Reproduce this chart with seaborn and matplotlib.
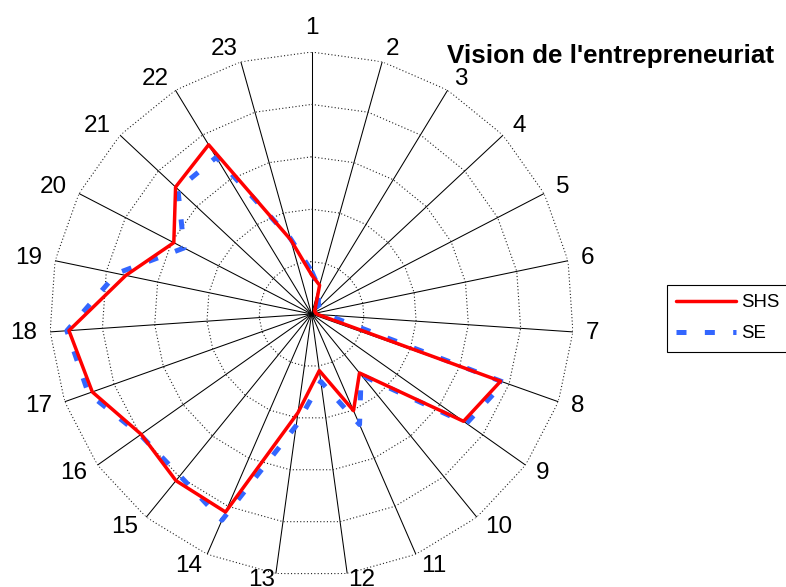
import numpy as np
import pandas as pd
import matplotlib
matplotlib.use("Agg")
import matplotlib.pyplot as plt
import seaborn as sns

# ---- data ----
spoke_labels = [str(i) for i in range(1, 24)]
shs_values = [0.75, 0.57, 0.14, 0.08, 0.08, 0.08, 0.12, 3.83, 3.55, 1.45, 2.01, 1.09,
              1.90, 4.12, 4.10, 3.98, 4.44, 4.64, 3.62, 2.96, 3.55, 3.78, 1.47]
se_values = [0.82, 0.52, 0.25, 0.20, 0.20, 0.22, 0.30, 3.90, 3.62, 1.50, 2.30, 1.30,
             2.15, 4.29, 3.98, 4.00, 4.52, 4.68, 3.80, 2.74, 3.49, 3.50, 1.50]
ring_levels = [1, 2, 3, 4, 5]
series_names = ["SHS", "SE"]
title_text = "Vision de l'entrepreneuriat"

sns.set_style("white")
plt.rcParams['font.family'] = ['Liberation Sans', 'DejaVu Sans']
plt.rcParams['text.color'] = 'black'
plt.rcParams['axes.labelcolor'] = 'black'

n = len(spoke_labels)
theta = np.arange(n) * 2 * np.pi / n
theta_c = np.append(theta, theta[0])

fig = plt.figure(figsize=(7.86, 5.87), dpi=100)
ax = fig.add_axes([0.063, 0.0187, 0.6667, 0.8927], projection='polar')
ax.set_theta_zero_location('N')
ax.set_theta_direction(-1)
rmax = ring_levels[-1]
ax.set_ylim(0, rmax)
ax.grid(False)
ax.spines['polar'].set_visible(False)
ax.set_xticks([])
ax.set_yticks([])

# spokes
for t in theta:
    ax.plot([t, t], [0, rmax], color='black', lw=0.75, zorder=1)
# polygon rings
for lv in ring_levels:
    ax.plot(theta_c, [lv] * (n + 1), color='#222222', lw=0.8,
            linestyle=(0, (1, 2)), zorder=1)

# data lines
df_shs = pd.DataFrame({'theta': theta_c, 'r': shs_values + shs_values[:1]})
df_se = pd.DataFrame({'theta': theta_c, 'r': se_values + se_values[:1]})
sns.lineplot(data=df_se, x='theta', y='r', ax=ax, sort=False, estimator=None,
             color='#3366ff', lw=3.6, linestyle=(0, (2.0, 3.67)),
             solid_capstyle='butt', dash_capstyle='butt', label=series_names[1], zorder=3)
sns.lineplot(data=df_shs, x='theta', y='r', ax=ax, sort=False, estimator=None,
             color='#ff0000', lw=2.5, label=series_names[0], zorder=4)
ax.set_xlabel('')
ax.set_ylabel('')
ax.set_xticks([])
ax.set_yticks([])
ax.set_ylim(0, rmax)

# spoke labels
for t, lab in zip(theta, spoke_labels):
    s, c = np.sin(t), np.cos(t)
    ha = 'left' if s > 0.05 else ('right' if s < -0.05 else 'center')
    va = 'bottom' if c > 0.99 else 'center'
    R = 5.12 if c < -0.95 else 5.25
    ax.text(t, R, lab, ha=ha, va=va, fontsize=17.5, color='black', clip_on=False)

# legend
handles, labels = ax.get_legend_handles_labels()
order = [labels.index(series_names[0]), labels.index(series_names[1])]
if ax.get_legend() is not None:
    ax.get_legend().remove()
leg = fig.legend([handles[i] for i in order], [labels[i] for i in order],
                 loc='upper left', bbox_to_anchor=(0.8486, 0.5145), borderaxespad=0,
                 fontsize=13.4, handlelength=3.2, handletextpad=0.27,
                 borderpad=0.5, labelspacing=0.75, fancybox=False, framealpha=1)
leg.get_frame().set_edgecolor('black')
leg.get_frame().set_linewidth(0.8)
for txt in leg.get_texts():
    txt.set_color('black')

fig.text(446.7 / 786, 1 - 63.3 / 587, title_text, ha='left', va='baseline',
         fontsize=18.7, fontweight='bold', color='black')

fig.savefig('out.png', dpi=100)
